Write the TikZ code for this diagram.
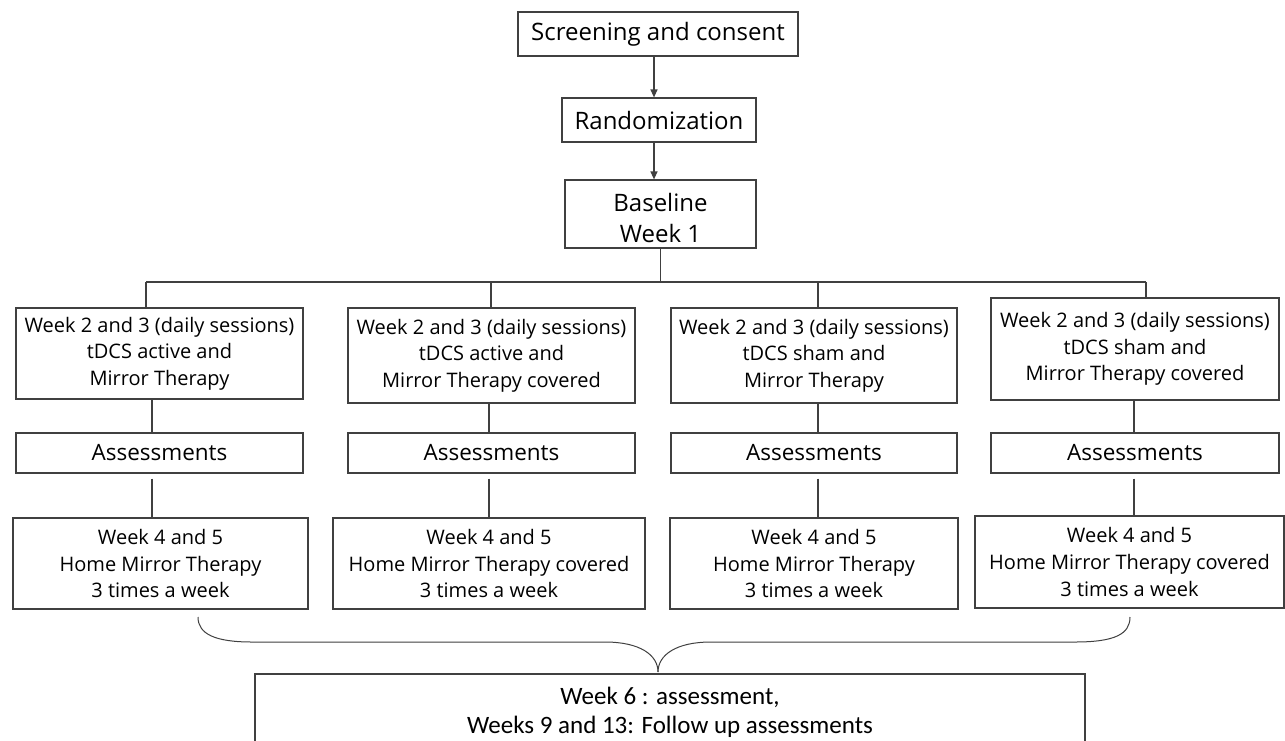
\documentclass[tikz,border=0pt]{standalone}
\usepackage{fontspec}
\setmainfont{Open Sans}
\newfontfamily\calib{Carlito}
\usetikzlibrary{arrows.meta}
\definecolor{linec}{RGB}{64,64,64}
\begin{document}
\begin{tikzpicture}[x=1pt,y=-1pt,
  box/.style={draw=linec, line width=1.2pt, inner sep=0pt, align=center, text=black},
  ftop/.style={font=\fontsize{24}{31}\selectfont},
  fcol/.style={font=\fontsize{20}{26.7}\selectfont},
  fass/.style={font=\fontsize{22.5}{27}\selectfont},
  conn/.style={draw=linec, line width=1.2pt},
  arr/.style={conn, -{Triangle[length=8pt,width=7pt]}}]
\useasboundingbox (0,0) rectangle (1285,740);
\clip (0,0) rectangle (1285,740);
\fill[white] (0,0) rectangle (1285,740);

% top chain
\node[box,ftop,minimum width=280pt,minimum height=44pt] (scr) at (658,34) {Screening and consent};
\node[box,ftop,minimum width=194pt,minimum height=44pt] (rand) at (659,120) {Randomization};
\node[box,ftop,minimum width=191pt,minimum height=68pt] (base) at (660.5,214) {\rule{0pt}{27pt}Baseline\\Week 1};

% column 1
\node[box,fcol,minimum width=287pt,minimum height=91pt] (w1) at (159.5,353.5) {Week 2 and 3 (daily sessions)\\tDCS active and\\Mirror Therapy};
\node[box,fass,minimum width=287pt,minimum height=40pt] (a1) at (159.5,453) {Assessments};
\node[box,fcol,minimum width=295pt,minimum height=91pt] (h1) at (160.5,563.5) {Week 4 and 5\\Home Mirror Therapy\\3 times a week};

% column 2
\node[box,fcol,minimum width=287pt,minimum height=95pt] (w2) at (491.5,355.5) {Week 2 and 3 (daily sessions)\\tDCS active and\\Mirror Therapy covered};
\node[box,fass,minimum width=287pt,minimum height=40pt] (a2) at (491.5,453) {Assessments};
\node[box,fcol,minimum width=312pt,minimum height=91pt] (h2) at (489,563.5) {Week 4 and 5\\Home Mirror Therapy covered\\3 times a week};

% column 3
\node[box,fcol,minimum width=286pt,minimum height=95pt] (w3) at (814,355.5) {Week 2 and 3 (daily sessions)\\tDCS sham and\\Mirror Therapy};
\node[box,fass,minimum width=286pt,minimum height=40pt] (a3) at (814,453) {Assessments};
\node[box,fcol,minimum width=288pt,minimum height=91pt] (h3) at (814,563.5) {Week 4 and 5\\Home Mirror Therapy\\3 times a week};

% column 4
\node[box,fcol,minimum width=288pt,minimum height=102pt] (w4) at (1135,349) {Week 2 and 3 (daily sessions)\\tDCS sham and\\Mirror Therapy covered};
\node[box,fass,minimum width=288pt,minimum height=40pt] (a4) at (1135,453) {Assessments};
\node[box,fcol,minimum width=309pt,minimum height=92pt] (h4) at (1129.5,562) {Week 4 and 5\\Home Mirror Therapy covered\\3 times a week};

% final box
\node[box,font=\calib\fontsize{25}{29}\selectfont,minimum width=830pt,minimum height=76pt] (fin) at (670,712) {Week 6 : assessment,\\Weeks 9 and 13: Follow up assessments};

% coordinates
\coordinate (ax) at (654,0);
\coordinate (barL) at (146,282);
\coordinate (barR) at (1146,282);
\coordinate (b2) at (491,282);
\coordinate (b3) at (818,282);
\coordinate (c1) at (152,0);
\coordinate (c2) at (489,0);
\coordinate (c3) at (818,0);
\coordinate (c4) at (1134,0);
\coordinate (brL) at (198,617);
\coordinate (brR) at (1130,617);
\coordinate (brT) at (658,672);

% arrows
\draw[arr] (scr.south -| ax) -- (rand.north -| ax);
\draw[arr] (rand.south -| ax) -- (base.north -| ax);

% distribution bar
\draw[conn] (base.south) -- (base.south |- barL);
\draw[conn] (barL) -- (barR);
\draw[conn] (barL) -- (barL |- w1.north);
\draw[conn] (b2) -- (b2 |- w2.north);
\draw[conn] (b3) -- (b3 |- w3.north);
\draw[conn] (barR) -- (barR |- w4.north);

% column connectors
\draw[conn] (w1.south -| c1) -- (a1.north -| c1);
\draw[conn] ([yshift=-5pt]a1.south -| c1) -- (h1.north -| c1);
\draw[conn] (w2.south -| c2) -- (a2.north -| c2);
\draw[conn] ([yshift=-5pt]a2.south -| c2) -- (h2.north -| c2);
\draw[conn] (w3.south -| c3) -- (a3.north -| c3);
\draw[conn] ([yshift=-5pt]a3.south -| c3) -- (h3.north -| c3);
\draw[conn] (w4.south -| c4) -- (a4.north -| c4);
\draw[conn] ([yshift=-5pt]a4.south -| c4) -- (h4.north -| c4);

% brace
\draw[draw=linec, line width=1pt] (brL) .. controls (198,634) and (215,642) .. (252,642) -- (605,642) .. controls (640,642) and (658,655) .. (brT);
\draw[draw=linec, line width=1pt] (brT) .. controls (658,655) and (676,642) .. (711,642) -- (1075,642) .. controls (1115,642) and (1130,634) .. (brR);
\end{tikzpicture}
\end{document}
